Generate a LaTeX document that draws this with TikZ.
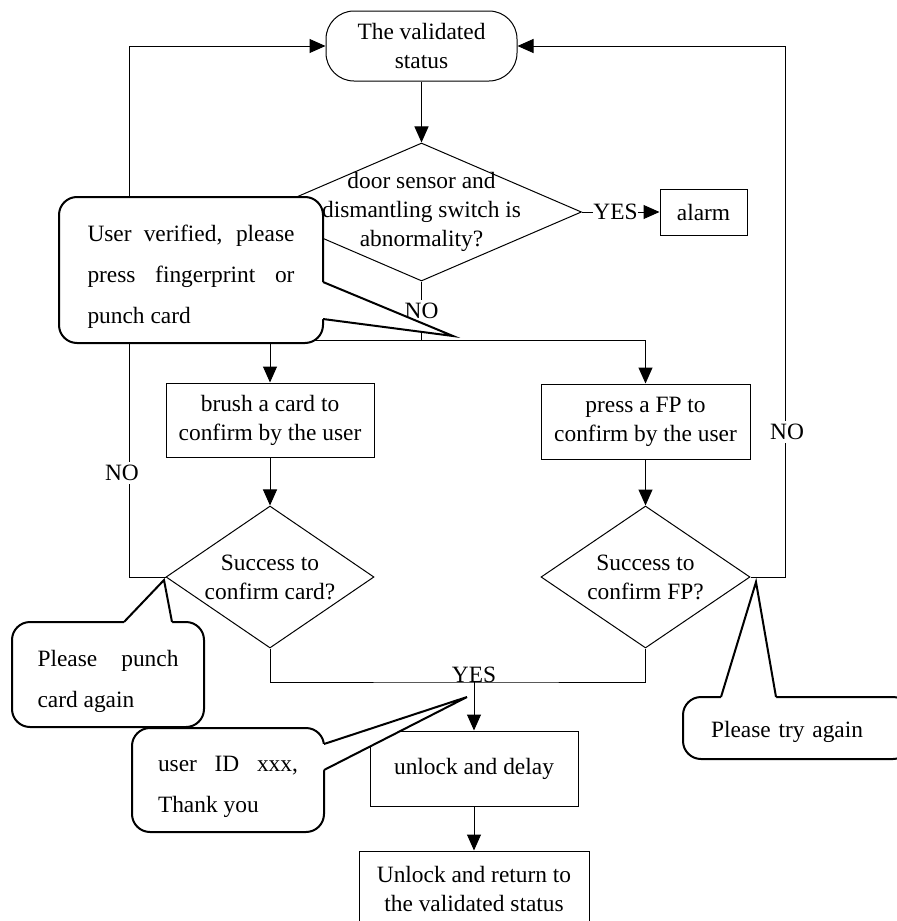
\documentclass[tikz,border=0pt]{standalone}
\usepackage{fontspec}
\setmainfont{Liberation Serif}
\usetikzlibrary{arrows.meta,shapes.geometric}

\tikzset{
  every node/.style={font=\fontsize{11.7}{14.5}\selectfont},
  box/.style={draw, line width=.5pt, align=center, inner sep=0pt},
  decision/.style={draw, diamond, line width=.5pt, inner sep=0pt},
  txt/.style={align=center, inner sep=0pt},
  lbl/.style={inner sep=1.5pt, fill=white},
  line/.style={line width=.5pt},
  arr/.style={line width=.5pt, -{Triangle[length=8pt, width=7pt]}},
  callout/.style={draw, line width=1pt, rounded corners=9pt, fill=white,
    inner sep=0pt, align=justify, font=\fontsize{11.7}{20.5}\selectfont,
    execute at begin node={\tolerance=10000\hyphenpenalty=10000\relax}},
  tail/.style={line width=1pt, line join=miter}
}

\begin{document}
\begin{tikzpicture}[x=.5pt, y=-.5pt]
  \useasboundingbox (0,0) rectangle (896,921);
  % flow chart
  \node[box, rounded corners=14pt, minimum width=95.5pt, minimum height=35pt] (status) at (421.5,46) {The validated\\status};
  \node[decision, minimum width=160pt, minimum height=69pt] (check) at (421.5,212) {};
  \node[txt] (checktxt) at (check) {door sensor and\\dismantling switch is\\abnormality?};
  \node[inner sep=0pt] (yes1) at (615.5,212) {YES};
  \node[box, minimum width=43.5pt, minimum height=23pt] (alarm) at (703.5,212) {alarm};
  \coordinate (split) at (421.5,340);
  \node[box, minimum width=104pt, minimum height=37pt] (card) at (270,420) {brush a card to\\confirm by the user};
  \node[box, minimum width=104.5pt, minimum height=37.5pt] (fp) at (645.5,421.5) {press a FP to\\confirm by the user};
  \node[decision, minimum width=104pt, minimum height=71pt] (cardok) at (270,577) {};
  \node[txt] (cardoktxt) at (cardok) {Success to\\confirm card?};
  \node[decision, minimum width=104.5pt, minimum height=71pt] (fpok) at (645.5,577) {};
  \node[txt] (fpoktxt) at (fpok) {Success to\\confirm FP?};
  \coordinate (join) at (474,682);
  \node[inner sep=0pt, anchor=base] (yes2) at (join) {YES};
  \node[box, minimum width=104pt, minimum height=37.5pt] (unlock) at (474,768.5) {unlock and delay};
  \node[box, minimum width=115pt, minimum height=37.5pt] (ret) at (474,888.5) {Unlock and return to\\the validated status};

  \draw[arr] (status) -- (check);
  \draw[line] (check.east) -- (yes1.west);
  \draw[arr] (yes1.east) -- (alarm.west);
  \draw[line] (check.south) -- (split);
  \draw[arr] (split) -| (card);
  \draw[arr] (split) -| (fp);
  \draw[arr] (card) -- (cardok);
  \draw[arr] (fp) -- (fpok);
  \draw[arr] (cardok.west) -- ++(-36,0) |- (status.west);
  \draw[arr] (fpok.east) -- ++(35,0) |- (status.east);
  \draw[line] (cardok.south) |- (join) -| (fpok.south);
  \draw[arr] (join) -- (unlock);
  \draw[arr] (unlock) -- (ret);
  \node[lbl] (nomid) at (421.5,311) {NO};
  \node[lbl] (noleft) at (122,473) {NO};
  \node[lbl] (noright) at (787,432) {NO};

  % callouts
  \node[callout, text width=103.5pt, minimum width=132pt, minimum height=73pt] (verify) at (191,270) {\rule{0pt}{15pt}User verified, please press fingerprint or punch card};
  \node[callout, text width=70.5pt, minimum width=96pt, minimum height=52.5pt] (punch) at (108,674.5) {\rule{0pt}{15pt}Please punch card again};
  \node[callout, text width=70pt, minimum width=96pt, minimum height=52pt] (thanks) at (228,780) {\rule{0pt}{15pt}user ID xxx, Thank you};
  \node[callout, align=left, text width=86pt, minimum width=114pt, minimum height=31pt] (retry) at (797,728) {\rule{0pt}{12pt}Please try again};
  \foreach \ax/\ay/\tx/\ty/\bx/\by/\dx/\dy in {323/282/453/336/323/319/-3/0,
      124/622/164/580/172/622/0/3, 324/744/467/697/324/770/-3/0,
      721/697/756/582/776/697/0/3}{
    \fill[white] (\ax+\dx,\ay+\dy) -- (\ax,\ay) -- (\tx,\ty) -- (\bx,\by) -- (\bx+\dx,\by+\dy) -- cycle;
    \draw[tail] (\ax,\ay) -- (\tx,\ty) -- (\bx,\by);
  }
\end{tikzpicture}
\end{document}
